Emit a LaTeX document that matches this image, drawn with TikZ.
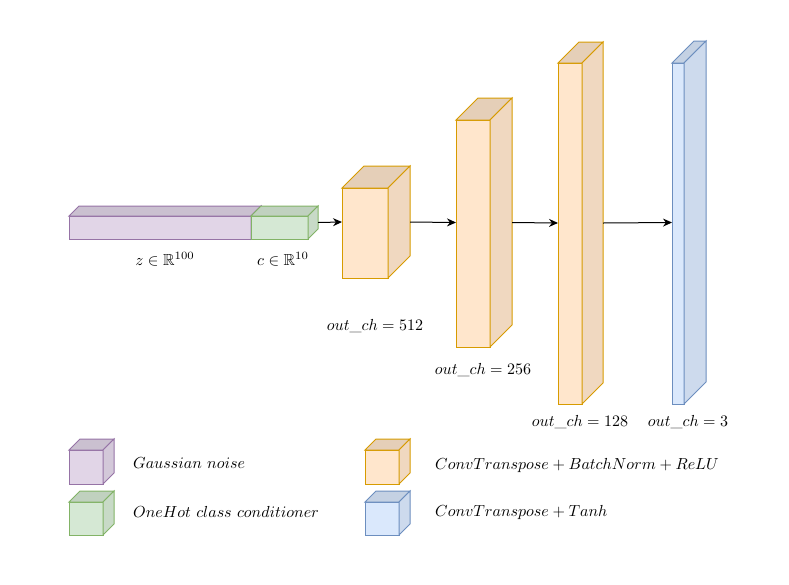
\documentclass[tikz,border=0pt]{standalone}
\usepackage{amssymb}
\usepackage{graphicx}
\usetikzlibrary{arrows.meta,calc}
\definecolor{pfill}{HTML}{E1D5E7}\definecolor{pdraw}{HTML}{9673A6}
\definecolor{gfill}{HTML}{D5E8D4}\definecolor{gdraw}{HTML}{82B366}
\definecolor{ofill}{HTML}{FFE6CC}\definecolor{odraw}{HTML}{D79B00}
\definecolor{bfill}{HTML}{DAE8FC}\definecolor{bdraw}{HTML}{6C8EBF}
\newcommand{\mycube}[8]{%
  \node[face, draw=#8, fill=#7, minimum width=#4, minimum height=#5] (#1) at (#2,#3) {};
  \draw[face line, draw=#8, fill=#7!90!black] (#1.north west) -- ([shift={(#6,-#6)}]#1.north west) -- ([shift={(#6,-#6)}]#1.north east) -- (#1.north east) -- cycle;
  \draw[face line, draw=#8, fill=#7!94!black] (#1.north east) -- ([shift={(#6,-#6)}]#1.north east) -- ([shift={(#6,-#6)}]#1.south east) -- (#1.south east) -- cycle;
  \coordinate (#1-in) at ([shift={(0,-#6/2)}]#1.west);
  \coordinate (#1-out) at ([shift={(#6,-#6/2)}]#1.east);
}
\newcommand{\mymath}[1]{\scalebox{1.6}{$#1$}}
\tikzset{
  face/.style={inner sep=0, outer sep=0, anchor=north west, line width=1pt},
  face line/.style={line width=1pt, line join=miter},
  arr/.style={line width=1pt, -{Stealth[length=9pt,width=8pt]}},
  lbl/.style={inner sep=0},
  leg/.style={inner sep=0, anchor=west},
}
\begin{document}
\begin{tikzpicture}[x=1pt,y=-1pt]
\useasboundingbox (0,0) rectangle (789,584);
% input bar
\mycube{noise}{69}{216}{182}{23}{10}{pfill}{pdraw}
\mycube{cond}{251}{216}{57}{23}{10}{gfill}{gdraw}
\node[lbl] (zl) at (165,259) {\mymath{z \in \mathbb{R}^{100}}};
\node[lbl] (cl) at (283,259) {\mymath{c \in \mathbb{R}^{10}}};
% layers
\mycube{l1}{342}{188}{46}{90}{22}{ofill}{odraw}
\mycube{l2}{456}{120}{34}{227}{22}{ofill}{odraw}
\mycube{l3}{558}{63}{24}{341}{21}{ofill}{odraw}
\mycube{l4}{672}{63}{12}{341}{22}{bfill}{bdraw}
\node[lbl] (t1) at (375,326) {\mymath{out\_ch = 512}};
\node[lbl] (t2) at (483,370) {\mymath{out\_ch = 256}};
\node[lbl] (t3) at (580,422) {\mymath{out\_ch = 128}};
\node[lbl] (t4) at (688,422) {\mymath{out\_ch = 3}};
% arrows
\draw[arr] (cond-out) -- (l1-in);
\draw[arr] (l1-out) -- (l2-in);
\draw[arr] (l2-out) -- (l3-in);
\draw[arr] (l3-out) -- (l4-in);
% legend
\mycube{lg1}{69}{450}{34}{34}{11}{pfill}{pdraw}
\mycube{lg2}{69}{502}{34}{33}{11}{gfill}{gdraw}
\mycube{lg3}{365}{450}{34}{34}{11}{ofill}{odraw}
\mycube{lg4}{365}{502}{34}{33}{11}{bfill}{bdraw}
\node[leg] (g1) at (133,463) {\mymath{Gaussian\ noise}};
\node[leg] (g2) at (133,512) {\mymath{OneHot\ class\ conditioner}};
\node[leg] (g3) at (435,465) {\mymath{ConvTranspose + BatchNorm + ReLU}};
\node[leg] (g4) at (435,512) {\mymath{ConvTranspose + Tanh}};
\end{tikzpicture}
\end{document}
